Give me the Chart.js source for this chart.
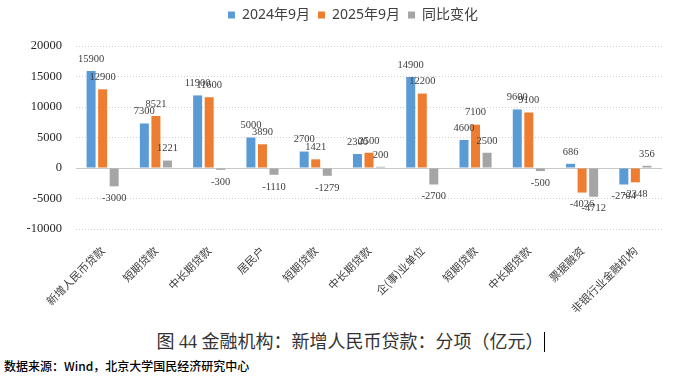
<!DOCTYPE html>
<html>
<head>
<meta charset="utf-8">
<script src="https://cdn.jsdelivr.net/npm/chart.js@4/dist/chart.umd.min.js"></script>
<style>
  body { margin: 0; background: #fff; }
  #wrap { position: relative; width: 673px; height: 379px; }
  #box { position: absolute; left: 0; top: 0; width: 673px; height: 320px; }
  #title { position: absolute; left: 12px; width: 673px; top: 327px; text-align: center;
           font-family: "Liberation Serif", "Noto Sans CJK SC", serif; font-size: 18px; color: #333; }
  #title span { border-right: 1px solid #000; margin-right: -4px; }
  #source { position: absolute; left: 4px; top: 357px; font-family: "Noto Sans CJK SC", sans-serif;
            font-size: 12px; font-weight: 500; color: #000; }
</style>
</head>
<body>
<div id="wrap">
  <div id="box"><canvas id="grafico"></canvas></div>
  <div id="title"><span>图 44 金融机构：新增人民币贷款：分项（亿元）</span></div>
  <div id="source">数据来源：Wind，北京大学国民经济研究中心</div>
</div>
<script>
const categorias = ["新增人民币贷款", "短期贷款", "中长期贷款", "居民户", "短期贷款", "中长期贷款",
                    "企(事)业单位", "短期贷款", "中长期贷款", "票据融资", "非银行业金融机构"]
const valores_2024 = [15900, 7300, 11900, 5000, 2700, 2300, 14900, 4600, 9600, 686, -2704]
const valores_2025 = [12900, 8521, 11600, 3890, 1421, 2500, 12200, 7100, 9100, -4026, -2348]
const variacao     = [-3000, 1221, -300, -1110, -1279, 200, -2700, 2500, -500, -4712, 356]
const ticks_y      = [-10000, -5000, 0, 5000, 10000, 15000, 20000]

// legenda: espaco extra abaixo e deslocada para a direita
const ajusteLegenda = {
    id: "ajusteLegenda",
    beforeLayout(chart) {
        const legenda = chart.legend
        if (!legenda || legenda._ajustada) return
        const fit = legenda.fit
        legenda.fit = function () { fit.call(this); this.height += 14 }
        legenda._ajustada = true
    },
    afterLayout(chart) {
        chart.legend.left += 22
        chart.legend.right += 22
    }
}

// linha do zero + rotulos dos valores
const rotulos = {
    id: "rotulos",
    beforeDatasetsDraw(chart) {
        const { ctx, chartArea, scales } = chart
        const y0 = scales.y.getPixelForValue(0)
        ctx.save()
        ctx.strokeStyle = "#c8c8c8"
        ctx.lineWidth = 1
        ctx.beginPath()
        ctx.moveTo(chartArea.left, Math.round(y0) + 0.5)
        ctx.lineTo(chartArea.right, Math.round(y0) + 0.5)
        ctx.stroke()
        ctx.restore()
    },
    afterDatasetsDraw(chart) {
        const { ctx } = chart
        ctx.save()
        ctx.font = "10.5px 'Liberation Serif', serif"
        ctx.fillStyle = "#404040"
        ctx.textAlign = "center"
        ctx.textBaseline = "middle"
        chart.data.datasets.forEach((dataset, i) => {
            chart.getDatasetMeta(i).data.forEach((bar, j) => {
                const v = dataset.data[j]
                const y = v >= 0 ? bar.y - 12 : bar.y + 12
                ctx.fillText(String(v), bar.x, y)
            })
        })
        ctx.restore()
    }
}

const config = {
    type: "bar",
    data: {
        labels: categorias,
        datasets: [
            { label: "2024年9月", data: valores_2024, backgroundColor: "#5b9bd5" },
            { label: "2025年9月", data: valores_2025, backgroundColor: "#ed7d31" },
            { label: "同比变化", data: variacao, backgroundColor: "#a5a5a5" }
        ]
    },
    options: {
        responsive: true,
        maintainAspectRatio: false,
        animation: false,
        datasets: { bar: { categoryPercentage: 0.65, barPercentage: 0.78 } },
        layout: { padding: { top: 0, right: 11, left: 0, bottom: 0 } },
        plugins: {
            tooltip: { enabled: false },
            legend: {
                position: "top",
                labels: {
                    boxWidth: 7, boxHeight: 7, padding: 8, color: "#404040",
                    font: { family: "'Noto Sans', 'Noto Sans CJK SC', sans-serif", size: 14 }
                }
            }
        },
        scales: {
            x: {
                grid: { display: false },
                border: { display: false },
                ticks: {
                    autoSkip: false, maxRotation: 45, minRotation: 45, padding: 7, color: "#404040",
                    font: { family: "'Noto Sans CJK SC', sans-serif", size: 11 }
                },
                afterFit: (scale) => { scale.height = 91 }
            },
            y: {
                min: -10000, max: 20000,
                afterBuildTicks: (scale) => { scale.ticks = ticks_y.map((v) => ({ value: v })) },
                grid: { color: (c) => c.tick && c.tick.value === 0 ? "rgba(0,0,0,0)" : "#cfcfcf", drawTicks: false },
                border: { display: false, dash: [1, 2] },
                ticks: {
                    padding: 14, color: "#262626",
                    font: { family: "'Liberation Serif', serif", size: 12.5 },
                    callback: (v) => String(v)
                },
                afterFit: (scale) => { scale.width = 76 }
            }
        }
    },
    plugins: [ajusteLegenda, rotulos]
}

new Chart(document.getElementById("grafico"), config)
</script>
</body>
</html>
